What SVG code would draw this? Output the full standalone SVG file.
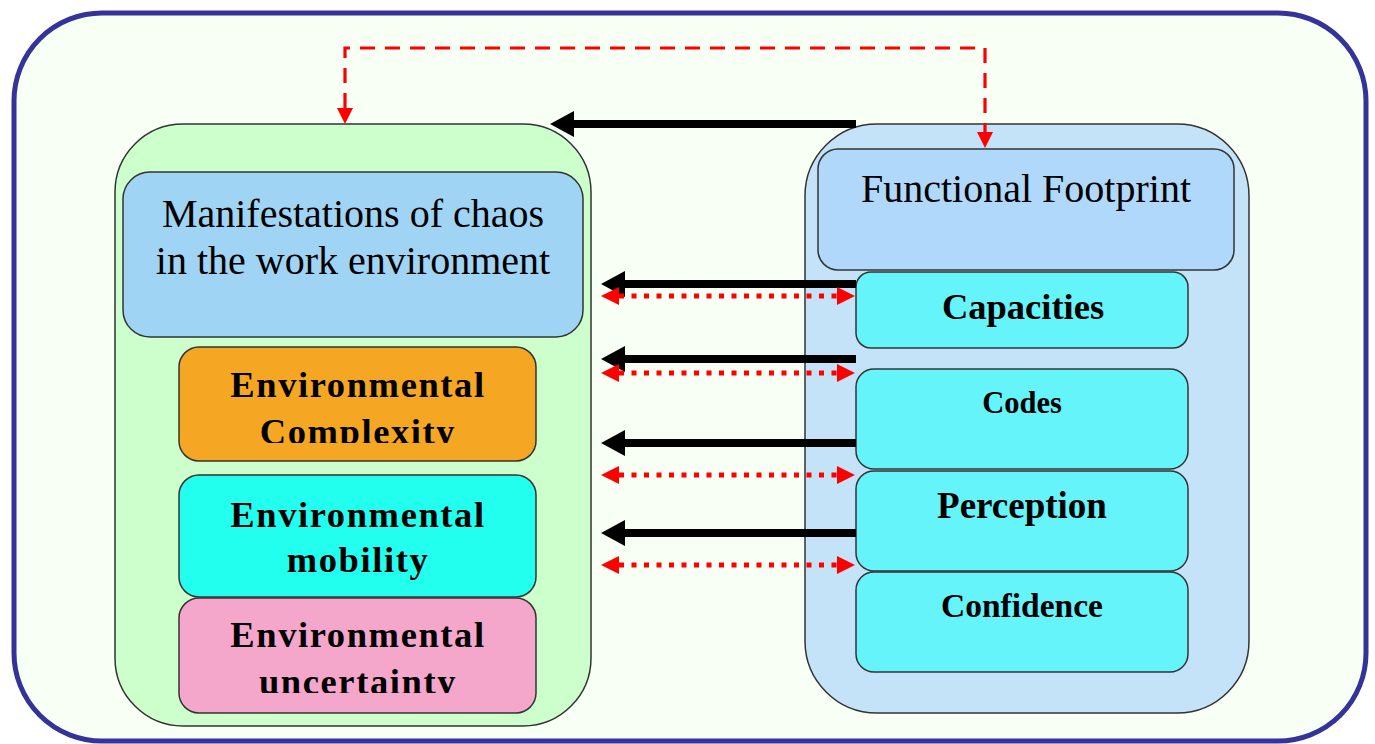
<svg xmlns="http://www.w3.org/2000/svg" width="1375" height="744" viewBox="0 0 1375 744">
<style>
.box{stroke:#333;stroke-width:1.5}
.t{font-family:"Liberation Serif","Times New Roman",serif;fill:#000;text-anchor:middle}
.b{font-weight:bold}
.env{font-weight:bold;font-size:36.5px;letter-spacing:1.6px}
.blk{stroke:#000;stroke-width:8;fill:none;marker-end:url(#bh)}
.dot{stroke:#ff0000;stroke-width:5;stroke-dasharray:5 7.5;fill:none;marker-start:url(#rh);marker-end:url(#rh)}
</style>
<defs>
<marker id="bh" markerUnits="userSpaceOnUse" viewBox="0 0 24 26" refX="0" refY="13" markerWidth="24" markerHeight="26" orient="auto"><path d="M0,0 L24,13 L0,26 Z" fill="#000"/></marker>
<marker id="rh" markerUnits="userSpaceOnUse" viewBox="0 0 18 18" refX="0" refY="9" markerWidth="18" markerHeight="18" orient="auto-start-reverse"><path d="M0,0 L18,9 L0,18 Z" fill="#ff0000"/></marker>
<marker id="rd" markerUnits="userSpaceOnUse" viewBox="0 0 16 16" refX="0" refY="8" markerWidth="16" markerHeight="16" orient="auto-start-reverse"><path d="M0,0 L16,8 L0,16 Z" fill="#ff0000"/></marker>
<clipPath id="c1"><rect x="170" y="340" width="380" height="103"/></clipPath>
<clipPath id="c2"><rect x="170" y="590" width="380" height="103"/></clipPath>
</defs>

<g id="frame">
<rect x="14" y="13" width="1352" height="728" rx="88" fill="#f8fff4" stroke="#333399" stroke-width="5"/>
</g>

<g id="chaos-container">
<rect class="box" x="115" y="124" width="476" height="602" rx="68" fill="#ccffcc"/>
</g>
<g id="manifestations">
<rect class="box" x="123" y="172" width="460" height="165" rx="27" fill="#a0d4f4"/>
<text class="t" x="353" y="227" font-size="40">Manifestations of chaos</text>
<text class="t" x="353" y="274" font-size="40">in the work environment</text>
</g>
<g id="complexity">
<rect class="box" x="179" y="347" width="357" height="114" rx="20" fill="#f5a623"/>
<g clip-path="url(#c1)">
<text class="t env" x="358" y="397">Environmental</text>
<text class="t env" x="358" y="444">Complexity</text>
</g>
</g>
<g id="mobility">
<rect class="box" x="179" y="475" width="357" height="122" rx="20" fill="#22ffee"/>
<text class="t env" x="358" y="527">Environmental</text>
<text class="t env" x="358" y="572">mobility</text>
</g>
<g id="uncertainty">
<rect class="box" x="179" y="598" width="357" height="115" rx="20" fill="#f4a6cb"/>
<g clip-path="url(#c2)">
<text class="t env" x="358" y="647">Environmental</text>
<text class="t env" x="358" y="694">uncertainty</text>
</g>
</g>

<g id="footprint-container">
<rect class="box" x="805" y="124" width="444" height="589" rx="72" fill="#c5e3f8"/>
</g>
<g id="functional-footprint">
<rect class="box" x="818" y="149" width="416" height="121" rx="20" fill="#b0d8fb"/>
<text class="t" x="1026" y="202" font-size="40">Functional Footprint</text>
</g>
<g id="capacities">
<rect class="box" x="856" y="272" width="332" height="76" rx="15" fill="#66f4fb"/>
<text class="t b" x="1023" y="319" font-size="36.5">Capacities</text>
</g>
<g id="codes">
<rect class="box" x="856" y="369" width="332" height="100" rx="18" fill="#66f4fb"/>
<text class="t b" x="1022" y="413" font-size="30.5">Codes</text>
</g>
<g id="perception">
<rect class="box" x="856" y="471" width="332" height="100" rx="18" fill="#66f4fb"/>
<text class="t b" x="1022" y="518" font-size="37">Perception</text>
</g>
<g id="confidence">
<rect class="box" x="856" y="572" width="332" height="100" rx="18" fill="#66f4fb"/>
<text class="t b" x="1022" y="617" font-size="33.5">Confidence</text>
</g>

<g id="connectors">
<path d="M345,108 V48 H985 V132" stroke="#ff0000" stroke-width="3.2" stroke-dasharray="15 10" fill="none" marker-start="url(#rd)" marker-end="url(#rd)"/>
<line class="blk" x1="856" y1="124" x2="574" y2="124"/>
<line class="blk" x1="856" y1="284" x2="625" y2="284"/>
<line class="dot" x1="619" y1="296" x2="837" y2="296"/>
<line class="blk" x1="856" y1="359" x2="625" y2="359"/>
<line class="dot" x1="619" y1="373" x2="837" y2="373"/>
<line class="blk" x1="856" y1="443" x2="625" y2="443"/>
<line class="dot" x1="619" y1="475" x2="837" y2="475"/>
<line class="blk" x1="856" y1="533" x2="625" y2="533"/>
<line class="dot" x1="619" y1="565" x2="837" y2="565"/>
</g>
</svg>
